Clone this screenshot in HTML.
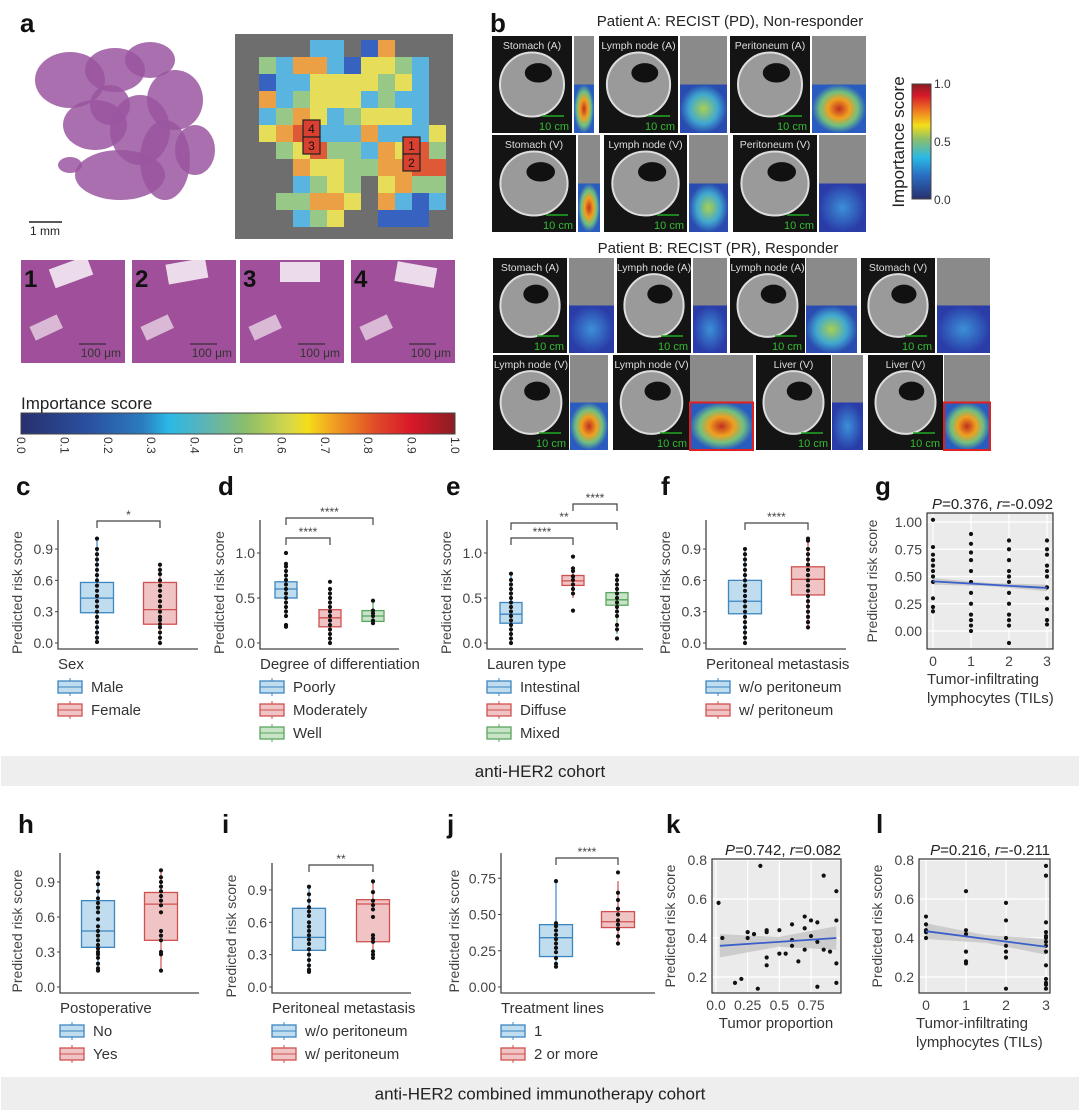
<!DOCTYPE html>
<html><head><meta charset="utf-8"><style>
html,body{margin:0;padding:0;background:#fff}
svg{display:block;font-family:"Liberation Sans",sans-serif}
</style></head><body>
<svg id="s" width="1080" height="1112" viewBox="0 0 1080 1112" xmlns="http://www.w3.org/2000/svg">
<defs>
<linearGradient id="jet" x1="0" x2="1" y1="0" y2="0">
<stop offset="0" stop-color="#28306e"/><stop offset="0.15" stop-color="#2a4e9e"/><stop offset="0.28" stop-color="#2b7cc0"/><stop offset="0.34" stop-color="#2ab8e6"/><stop offset="0.42" stop-color="#5ab4b8"/><stop offset="0.52" stop-color="#8cbe6a"/><stop offset="0.62" stop-color="#d8d848"/><stop offset="0.66" stop-color="#f4de1a"/><stop offset="0.72" stop-color="#f0a020"/><stop offset="0.82" stop-color="#e04828"/><stop offset="0.9" stop-color="#d8182a"/><stop offset="1" stop-color="#8a1e22"/>
</linearGradient>
<linearGradient id="jetv" x1="0" x2="0" y1="1" y2="0">
<stop offset="0" stop-color="#28306e"/><stop offset="0.2" stop-color="#2a6cc0"/><stop offset="0.36" stop-color="#2ab8e6"/><stop offset="0.52" stop-color="#8cbe6a"/><stop offset="0.64" stop-color="#f4de1a"/><stop offset="0.76" stop-color="#f08020"/><stop offset="0.9" stop-color="#d8182a"/><stop offset="1" stop-color="#8a1e22"/>
</linearGradient>
<radialGradient id="hot"><stop offset="0" stop-color="#c03020"/><stop offset="0.4" stop-color="#f0a020"/><stop offset="0.7" stop-color="#70c080"/><stop offset="1" stop-color="#2a5cc0"/></radialGradient>
<radialGradient id="warm"><stop offset="0" stop-color="#a8d050"/><stop offset="0.6" stop-color="#40a8d0"/><stop offset="1" stop-color="#2a4cb0"/></radialGradient>
<radialGradient id="cool"><stop offset="0" stop-color="#3c90d8"/><stop offset="1" stop-color="#2a3ca8"/></radialGradient>
</defs>
<g id="topg"></g>
<g id="charts"></g>
</svg>
<script>
// ---------- chart data ----------
const cCats=["Male","Female"];
const cStats=[[0.01,0.29,0.43,0.58,1.0],[0.0,0.18,0.32,0.58,0.75]];
const cPts=[[0.01,0.05,0.1,0.15,0.2,0.25,0.3,0.35,0.4,0.45,0.5,0.55,0.6,0.65,0.7,0.75,0.8,0.85,0.9,1.0],[0.0,0.05,0.1,0.15,0.18,0.22,0.25,0.3,0.35,0.4,0.45,0.5,0.55,0.6,0.66,0.7,0.75]];
const dCats=["Poorly","Moderately","Well"];
const dStats=[[0.3,0.5,0.6,0.68,0.88],[0.0,0.18,0.28,0.37,0.6],[0.22,0.24,0.3,0.36,0.47]];
const dPts=[[0.18,0.2,0.3,0.35,0.4,0.45,0.5,0.55,0.6,0.65,0.7,0.75,0.8,0.85,0.88,1.0],[0.0,0.05,0.1,0.15,0.2,0.25,0.3,0.35,0.4,0.45,0.5,0.55,0.6,0.68],[0.22,0.25,0.3,0.33,0.36,0.47]];
const eCats=["Intestinal","Diffuse","Mixed"];
const eStats=[[0.0,0.22,0.32,0.45,0.77],[0.5,0.64,0.69,0.75,0.83],[0.1,0.42,0.48,0.56,0.75]];
const ePts=[[0.0,0.05,0.1,0.15,0.2,0.25,0.3,0.35,0.4,0.45,0.5,0.55,0.6,0.65,0.7,0.77],[0.36,0.55,0.6,0.65,0.7,0.74,0.8,0.83,0.96],[0.05,0.15,0.2,0.3,0.35,0.4,0.45,0.5,0.55,0.6,0.65,0.7,0.75]];
const fCats=["w/o peritoneum","w/ peritoneum"];
const fStats=[[0.0,0.28,0.4,0.6,0.9],[0.15,0.46,0.61,0.73,1.0]];
const fPts=[[0.0,0.05,0.1,0.15,0.2,0.25,0.3,0.35,0.4,0.45,0.5,0.55,0.6,0.65,0.7,0.75,0.8,0.85,0.9],[0.15,0.2,0.25,0.3,0.35,0.4,0.45,0.5,0.55,0.6,0.65,0.7,0.75,0.8,0.85,0.9,0.98,1.0]];
const gX=[0,0,0,0,0,0,0,0,0,0,0,1,1,1,1,1,1,1,1,1,1,1,1,2,2,2,2,2,2,2,2,2,2,2,2,3,3,3,3,3,3,3,3,3,3,3];
const gY=[1.02,0.77,0.7,0.65,0.6,0.55,0.5,0.45,0.3,0.22,0.18,0.89,0.8,0.72,0.65,0.55,0.45,0.35,0.25,0.15,0.1,0.05,0.0,0.83,0.75,0.65,0.55,0.45,0.35,0.25,0.15,0.1,0.05,-0.11,0.5,0.83,0.75,0.7,0.6,0.55,0.5,0.4,0.3,0.2,0.1,0.06];
const gFit=[0.455,0.395];
const hCats=["No","Yes"];
const hStats=[[0.15,0.34,0.48,0.74,0.98],[0.14,0.40,0.71,0.81,1.0]];
const hPts=[[0.14,0.16,0.2,0.25,0.28,0.3,0.33,0.36,0.4,0.44,0.48,0.52,0.58,0.64,0.68,0.72,0.76,0.82,0.88,0.94,0.98],[0.14,0.28,0.3,0.4,0.44,0.48,0.64,0.7,0.74,0.78,0.82,0.86,0.9,0.94,1.0]];
const iCats=["w/o peritoneum","w/ peritoneum"];
const iStats=[[0.14,0.34,0.46,0.73,0.93],[0.27,0.42,0.77,0.81,0.98]];
const iPts=[[0.14,0.16,0.2,0.25,0.3,0.35,0.4,0.44,0.48,0.52,0.56,0.6,0.66,0.7,0.74,0.8,0.86,0.93],[0.27,0.3,0.33,0.42,0.45,0.48,0.65,0.72,0.76,0.8,0.88,0.98]];
const jCats=["1","2 or more"];
const jStats=[[0.14,0.21,0.34,0.43,0.73],[0.3,0.41,0.45,0.52,0.73]];
const jPts=[[0.14,0.16,0.2,0.24,0.27,0.3,0.33,0.36,0.39,0.42,0.44,0.73],[0.3,0.35,0.4,0.43,0.46,0.5,0.54,0.6,0.65,0.79]];
const kX=[0.02,0.05,0.15,0.2,0.25,0.25,0.3,0.33,0.35,0.4,0.4,0.4,0.4,0.5,0.5,0.55,0.6,0.6,0.6,0.65,0.7,0.7,0.7,0.75,0.75,0.8,0.8,0.8,0.85,0.85,0.9,0.95,0.95,0.95,0.95];
const kY=[0.58,0.4,0.17,0.19,0.43,0.4,0.42,0.14,0.77,0.44,0.43,0.3,0.26,0.44,0.32,0.32,0.47,0.39,0.36,0.28,0.51,0.45,0.34,0.49,0.41,0.48,0.38,0.15,0.72,0.34,0.33,0.64,0.49,0.27,0.17];
const kFit=[0.36,0.40];
const lX=[0,0,0,0,0,1,1,1,1,1,1,2,2,2,2,2,2,2,3,3,3,3,3,3,3,3,3,3,3,3,3,3];
const lY=[0.51,0.47,0.44,0.43,0.4,0.64,0.44,0.42,0.33,0.28,0.27,0.58,0.49,0.4,0.36,0.33,0.3,0.14,0.77,0.72,0.48,0.43,0.41,0.4,0.38,0.36,0.33,0.26,0.19,0.17,0.16,0.14];
const lFit=[0.435,0.355];
const colorbarTicks=["0.0","0.1","0.2","0.3","0.4","0.5","0.6","0.7","0.8","0.9","1.0"];

const NS="http://www.w3.org/2000/svg";
function E(p,tag,at,txt){const e=document.createElementNS(NS,tag);for(const k in at)e.setAttribute(k,at[k]);if(txt!=null)e.textContent=txt;p.appendChild(e);return e;}
const TG=document.getElementById('topg'), C=document.getElementById('charts');
const FILL=["#c0dcef","#f0c4c4","#c8e4c6"], STR=["#3d86c0","#d05050","#5aa560"];

function letter(x,y,t){const e=E(C,'text',{x:x,y:y,'font-size':26,'font-weight':'bold',fill:'#111'},t);

}

function boxPanel(o){
  const g=E(C,'g',{});
  
  
  const ys=v=>o.y0-v*o.k;
  const ax=E(g,'path',{d:`M${o.x0},${o.top}V${o.bot}H${o.x1}`,fill:'none',stroke:'#444','stroke-width':1.3});
  
  
  o.ticks.forEach(t=>{const y=ys(t);E(g,'line',{x1:o.x0-3,x2:o.x0,y1:y,y2:y,stroke:'#444'});
    const tl=E(g,'text',{x:o.x0-5,y:y+5,'font-size':14,'text-anchor':'end',fill:'#444'},o.fmt(t));
    
    });
  const yt=E(g,'text',{transform:`translate(${o.x0-o.ytOff},${(o.top+o.bot)/2+8}) rotate(-90)`,'font-size':14,'text-anchor':'middle',fill:'#444'},'Predicted risk score');
  
  
  o.stats.forEach((s,i)=>{
    const cx=o.cx[i],w=o.w;
    const b=E(g,'g',{});
    
    
    E(b,'line',{x1:cx,x2:cx,y1:ys(s[0]),y2:ys(s[4]),stroke:STR[i],'stroke-width':1.2});
    E(b,'rect',{x:cx-w/2,y:ys(s[3]),width:w,height:ys(s[1])-ys(s[3]),fill:FILL[i],stroke:STR[i],'stroke-width':1.3});
    E(b,'line',{x1:cx-w/2,x2:cx+w/2,y1:ys(s[2]),y2:ys(s[2]),stroke:STR[i],'stroke-width':1.3});
    o.pts[i].forEach(v=>{const d=E(b,'circle',{cx:cx,cy:ys(v),r:2.1,fill:'#111'});
      
      });
  });
  (o.br||[]).forEach(br=>{const a=o.cx[br[0]],c=o.cx[br[1]],y=br[2];
    const p=E(g,'path',{d:`M${a},${y+7}V${y}H${c}V${y+7}`,fill:'none',stroke:'#444','stroke-width':1.2});
    
    
    const st=E(g,'text',{x:(a+c)/2,y:y-2,'font-size':12,'text-anchor':'middle',fill:'#444'},br[3]);
    
    });
  const xt=E(g,'text',{x:o.x0,y:o.bot+20,'font-size':15,fill:'#333'},o.title);
  
  
  o.cats.forEach((c,i)=>{const y=o.bot+38+i*23;
    const le=E(g,'g',{});
    
    
    E(le,'line',{x1:o.x0+12,x2:o.x0+12,y1:y-9,y2:y+9,stroke:STR[i]});
    E(le,'rect',{x:o.x0,y:y-6,width:24,height:12,fill:FILL[i],stroke:STR[i],'stroke-width':1.3});
    E(le,'line',{x1:o.x0,x2:o.x0+24,y1:y,y2:y,stroke:STR[i]});
    E(le,'text',{x:o.x0+33,y:y+5,'font-size':15,fill:'#333'},c);});
}
function scatPanel(o){
  const g=E(C,'g',{});
  
  
  const ys=v=>o.y0-v*o.k, xs=v=>o.xa+v*o.kx;
  const bg=E(g,'rect',{x:o.l,y:o.t,width:o.r-o.l,height:o.b-o.t,fill:'#ebebeb'});
  
  
  o.yt.forEach(t=>{E(g,'line',{x1:o.l,x2:o.r,y1:ys(t),y2:ys(t),stroke:'#fff','stroke-width':1.2});
    const tl=E(g,'text',{x:o.l-5,y:ys(t)+5,'font-size':14,'text-anchor':'end',fill:'#444'},t.toFixed(o.yd));
    
    });
  o.xt.forEach((t,i)=>{E(g,'line',{x1:xs(t),x2:xs(t),y1:o.t,y2:o.b,stroke:'#fff','stroke-width':1.2});
    const tl=E(g,'text',{x:xs(t),y:o.b+17,'font-size':14,'text-anchor':'middle',fill:'#444'},o.xl[i]);
    
    });
  const x0=o.fx[0],x1=o.fx[1],f0=o.fit[0],f1=o.fit[1],bw=o.band;
  const band=E(g,'path',{d:`M${xs(x0)},${ys(f0+bw[0])}L${xs((x0+x1)/2)},${ys((f0+f1)/2+bw[1])}L${xs(x1)},${ys(f1+bw[0])}L${xs(x1)},${ys(f1-bw[0])}L${xs((x0+x1)/2)},${ys((f0+f1)/2-bw[1])}L${xs(x0)},${ys(f0-bw[0])}Z`,fill:'#c4c4c4',opacity:0.8});
  
  
  o.X.forEach((x,i)=>{const d=E(g,'circle',{cx:xs(x),cy:ys(o.Y[i]),r:2.1,fill:'#111'});
    
    });
  const fl=E(g,'line',{x1:xs(x0),y1:ys(f0),x2:xs(x1),y2:ys(f1),stroke:'#3a5fc8','stroke-width':1.8});
  
  
  const fr=E(g,'rect',{x:o.l,y:o.t,width:o.r-o.l,height:o.b-o.t,fill:'none',stroke:'#333','stroke-width':1.2});
  
  
  const tt=E(g,'text',{x:o.r,y:o.t-4,'font-size':15,'text-anchor':'end',fill:'#222'});
  
  
  E(tt,'tspan',{'font-style':'italic'},'P');
  E(tt,'tspan',{},'='+o.p+', ');
  E(tt,'tspan',{'font-style':'italic'},'r');
  E(tt,'tspan',{},'='+o.rv);
  const yt=E(g,'text',{transform:`translate(${o.l-o.ytOff},${(o.t+o.b)/2}) rotate(-90)`,'font-size':14,'text-anchor':'middle',fill:'#444'},'Predicted risk score');
  
  
  o.xtitle.forEach((s,i)=>{const t=E(g,'text',{x:o.xtx,y:o.b+35+i*19,'font-size':15,'text-anchor':o.xta,fill:'#333'},s);
    
    });
}

// ---------- panel a/b (images approximated) ----------
function rect(p,x,y,w,h,f,extra){return E(p,'rect',Object.assign({x:x,y:y,width:w,height:h,fill:f},extra||{}));}
letter(20,32,'a'); letter(490,32,'b');
const he=E(TG,'g',{});


[[70,80,35,28],[115,70,30,22],[150,60,25,18],[175,100,28,30],[95,125,32,25],[140,130,30,35],[120,175,45,25],[165,160,25,40],[195,150,20,25],[70,165,12,8],[110,105,20,20]].forEach(a=>E(he,'ellipse',{cx:a[0],cy:a[1],rx:a[2],ry:a[3],fill:'#9a56a0',opacity:0.85}));
E(he,'line',{x1:29,x2:62,y1:222,y2:222,stroke:'#222','stroke-width':1.5});
E(he,'text',{x:30,y:235,'font-size':12,fill:'#222'},'1 mm');
const hm=E(TG,'g',{});


rect(hm,235,34,218,205,'#6e6e6e');
const tc={b:'#3862c0',c:'#5ab4e0',g:'#98c888',y:'#e6de58',o:'#eca046',r:'#de5a36'};
["....cc.bo...",".gcoocbyygc.",".bccyyyygyc.",".ocgyyycgcc.",".cgoycgyyyc.",".yorcccocccy","..gyrggcoyrg","...oyyggoorr","...cgyg.yogg","..ggooy.ocbc","...cgy..bbb."].forEach((row,r)=>{[...row].forEach((ch,c)=>{if(tc[ch])rect(hm,242+c*17,40+r*17,17,17,tc[ch]);});});
[[303,120,'4'],[303,137,'3'],[403,137,'1'],[403,154,'2']].forEach(a=>{rect(hm,a[0],a[1],17,17,'#d84030',{stroke:'#222','stroke-width':1.2});E(hm,'text',{x:a[0]+8.5,y:a[1]+13,'font-size':12,'text-anchor':'middle',fill:'#111'},a[2]);});
[21,132,240,351].forEach((x,i)=>{const t=E(TG,'g',{});
  
  
  rect(t,x,260,104,103,'#a0509a');
  rect(t,x+30+i*5,262,40,20,'#ffffff',{opacity:0.8,transform:`rotate(${-20+i*10} ${x+50} 272)`});
  rect(t,x+10,320,30,15,'#ffffff',{opacity:0.6,transform:`rotate(-25 ${x+25} 327)`});
  E(t,'text',{x:x+3,y:287,'font-size':24,'font-weight':'bold',fill:'#111'},String(i+1));
  E(t,'line',{x1:x+58,x2:x+85,y1:344,y2:344,stroke:'#222'});
  E(t,'text',{x:x+100,y:357,'font-size':12,'text-anchor':'end',fill:'#333'},'100 μm');});
const cba=E(TG,'g',{});


E(cba,'text',{x:21,y:409,'font-size':17,fill:'#222'},'Importance score');
rect(cba,21,413,434,21,'url(#jet)',{stroke:'#444'});
colorbarTicks.forEach((t,i)=>{const x=21+i*43.4;E(cba,'text',{transform:`translate(${x-4},437) rotate(90)`,'font-size':12,fill:'#333'},t);});
function ctPanel(x,y,w,h,label,sx,sw,kind,redBorder){
  const g=E(TG,'g',{});
  
  
  rect(g,x,y,w,h,'#141414');
  E(g,'ellipse',{cx:x+w/2,cy:y+h*0.5,rx:w*0.4,ry:h*0.33,fill:'#9a9a9a',stroke:'#ddd','stroke-width':2});
  E(g,'ellipse',{cx:x+w*0.58,cy:y+h*0.38,rx:w*0.17,ry:h*0.1,fill:'#111'});
  E(g,'text',{x:x+w/2,y:y+13,'font-size':10.5,'text-anchor':'middle',fill:'#ddd'},label);
  E(g,'line',{x1:x+w-30,x2:x+w-8,y1:y+h-17,y2:y+h-17,stroke:'#2a2','stroke-width':1.5});
  E(g,'text',{x:x+w-3,y:y+h-3,'font-size':11,'text-anchor':'end',fill:'#3b3'},'10 cm');
  rect(g,sx,y,sw,h/2,'#8a8a8a');
  rect(g,sx,y+h/2,sw,h/2,'url(#'+kind+')',redBorder?{stroke:'#e02020','stroke-width':2}:{});
}
E(TG,'text',{x:730,y:26,'font-size':15,'text-anchor':'middle',fill:'#222'},'Patient A: RECIST (PD), Non-responder');
ctPanel(492,36,80,97,'Stomach (A)',574,20,'hot');
ctPanel(599,36,79,97,'Lymph node (A)',680,47,'warm');
ctPanel(730,36,80,97,'Peritoneum (A)',812,54,'hot');
ctPanel(492,135,84,97,'Stomach (V)',578,22,'hot');
ctPanel(604,135,83,97,'Lymph node (V)',689,39,'warm');
ctPanel(733,135,84,97,'Peritoneum (V)',819,47,'cool');
E(TG,'text',{x:718,y:253,'font-size':15,'text-anchor':'middle',fill:'#222'},'Patient B: RECIST (PR), Responder');
ctPanel(493,258,74,95,'Stomach (A)',569,45,'cool');
ctPanel(617,258,74,95,'Lymph node (A)',693,34,'cool');
ctPanel(730,258,75,95,'Lymph node (A)',806,51,'warm');
ctPanel(861,258,74,95,'Stomach (V)',937,53,'cool');
ctPanel(493,355,76,95,'Lymph node (V)',570,38,'hot');
ctPanel(613,355,77,95,'Lymph node (V)',690,63,'hot',true);
ctPanel(756,355,75,95,'Liver (V)',832,31,'cool');
ctPanel(868,355,75,95,'Liver (V)',944,46,'hot',true);
const cbb=E(TG,'g',{});


rect(cbb,912,84,19,115,'url(#jetv)',{stroke:'#444'});
[['1.0',88],['0.5',146],['0.0',204]].forEach(a=>E(cbb,'text',{x:934,y:a[1],'font-size':12,fill:'#333'},a[0]));
E(cbb,'text',{transform:'translate(904,142) rotate(-90)','font-size':17,'text-anchor':'middle',fill:'#222'},'Importance score');

// ---------- charts ----------
letter(16,495,'c');letter(218,495,'d');letter(446,495,'e');letter(661,495,'f');letter(875,495,'g');
letter(18,833,'h');letter(222,833,'i');letter(447,833,'j');letter(666,833,'k');letter(876,833,'l');
const f1=t=>t.toFixed(1), f2=t=>t.toFixed(2);
boxPanel({id:'c',x0:58,x1:198,top:520,bot:649,y0:643,k:104.4,ticks:[0,0.3,0.6,0.9],fmt:f1,ytOff:36,cx:[97,160],w:33,cats:cCats,stats:cStats,pts:cPts,br:[[0,1,521,'*']],title:'Sex'});
boxPanel({id:'d',x0:260,x1:399,top:520,bot:649,y0:643,k:90,ticks:[0,0.5,1.0],fmt:f1,ytOff:36,cx:[286,330,373],w:22,cats:dCats,stats:dStats,pts:dPts,br:[[0,1,538,'****'],[0,2,518,'****']],title:'Degree of differentiation'});
boxPanel({id:'e',x0:487,x1:643,top:520,bot:649,y0:643,k:90,ticks:[0,0.5,1.0],fmt:f1,ytOff:36,cx:[511,573,617],w:22,cats:eCats,stats:eStats,pts:ePts,br:[[0,1,538,'****'],[0,2,523,'**'],[1,2,504,'****']],title:'Lauren type'});
boxPanel({id:'f',x0:706,x1:846,top:520,bot:649,y0:643,k:104.4,ticks:[0,0.3,0.6,0.9],fmt:f1,ytOff:36,cx:[745,808],w:33,cats:fCats,stats:fStats,pts:fPts,br:[[0,1,523,'****']],title:'Peritoneal metastasis'});
scatPanel({id:'g',l:927,r:1053,t:513,b:649,y0:631,k:109,xa:933,kx:38,yt:[0,0.25,0.5,0.75,1.0],yd:2,xt:[0,1,2,3],xl:['0','1','2','3'],X:gX,Y:gY,fit:gFit,fx:[0,3],band:[0.03,0.015],p:'0.376',rv:'-0.092',ytOff:50,xtitle:['Tumor-infiltrating','lymphocytes (TILs)'],xtx:927,xta:'start'});
boxPanel({id:'h',x0:60,x1:199,top:853,bot:993,y0:987,k:116.7,ticks:[0,0.3,0.6,0.9],fmt:f1,ytOff:38,cx:[98,161],w:33,cats:hCats,stats:hStats,pts:hPts,br:[],title:'Postoperative'});
boxPanel({id:'i',x0:272,x1:411,top:863,bot:993,y0:987,k:107.8,ticks:[0,0.3,0.6,0.9],fmt:f1,ytOff:36,cx:[309,373],w:33,cats:iCats,stats:iStats,pts:iPts,br:[[0,1,865,'**']],title:'Peritoneal metastasis'});
boxPanel({id:'j',x0:501,x1:655,top:853,bot:993,y0:987,k:145,ticks:[0,0.25,0.5,0.75],fmt:f2,ytOff:42,cx:[556,618],w:33,cats:jCats,stats:jStats,pts:jPts,br:[[0,1,858,'****']],title:'Treatment lines'});
scatPanel({id:'k',l:712,r:841,t:859,b:993,y0:1016,k:195,xa:716,kx:126.7,yt:[0.2,0.4,0.6,0.8],yd:1,xt:[0,0.25,0.5,0.75],xl:['0.0','0.25','0.5','0.75'],X:kX,Y:kY,fit:kFit,fx:[0.03,0.95],band:[0.06,0.025],p:'0.742',rv:'0.082',ytOff:37,xtitle:['Tumor proportion'],xtx:776,xta:'middle'});
scatPanel({id:'l',l:919,r:1050,t:859,b:993,y0:1016,k:195,xa:926,kx:40,yt:[0.2,0.4,0.6,0.8],yd:1,xt:[0,1,2,3],xl:['0','1','2','3'],X:lX,Y:lY,fit:lFit,fx:[0,3],band:[0.04,0.02],p:'0.216',rv:'-0.211',ytOff:37,xtitle:['Tumor-infiltrating','lymphocytes (TILs)'],xtx:916,xta:'start'});
[[756,30,'anti-HER2 cohort'],[1077,33,'anti-HER2 combined immunotherapy cohort']].forEach((a,i)=>{
  const g=E(C,'g',{});
  
  
  rect(g,1,a[0],1078,a[1],'#eeeeee');
  E(g,'text',{x:540,y:a[0]+a[1]/2+6,'font-size':17,'text-anchor':'middle',fill:'#222'},a[2]);});
</script>
</body></html>
